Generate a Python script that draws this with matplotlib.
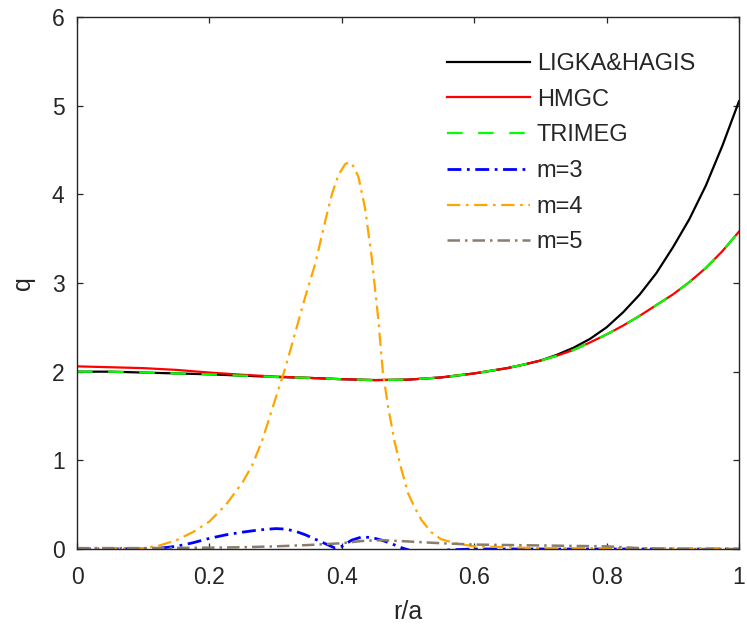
import matplotlib
matplotlib.use("Agg")
import matplotlib.pyplot as plt
import numpy as np

plt.rcParams['font.family'] = ['Liberation Sans', 'DejaVu Sans']

# ---- data ----
r_q = [0.00, 0.05, 0.10, 0.15, 0.20, 0.25, 0.30, 0.35, 0.40, 0.45, 0.50, 0.55,
       0.60, 0.625, 0.65, 0.675, 0.70, 0.725, 0.75, 0.775, 0.80, 0.825, 0.85,
       0.875, 0.90, 0.925, 0.95, 0.975, 1.00]
q_ligka = [2.00, 2.00, 1.99, 1.98, 1.97, 1.955, 1.94, 1.93, 1.915, 1.905, 1.91, 1.935,
           1.98, 2.01, 2.04, 2.08, 2.125, 2.19, 2.27, 2.37, 2.50, 2.67, 2.87,
           3.11, 3.40, 3.72, 4.10, 4.55, 5.05]
q_hmgc = [2.06, 2.05, 2.04, 2.02, 1.99, 1.965, 1.945, 1.93, 1.915, 1.905, 1.91, 1.935,
          1.98, 2.01, 2.04, 2.08, 2.125, 2.18, 2.245, 2.33, 2.42, 2.52, 2.63,
          2.75, 2.87, 3.01, 3.17, 3.36, 3.58]
q_trimeg = [2.00, 2.00, 1.99, 1.98, 1.97, 1.955, 1.94, 1.93, 1.915, 1.905, 1.91, 1.935,
            1.98, 2.01, 2.04, 2.08, 2.125, 2.18, 2.245, 2.33, 2.42, 2.52, 2.63,
            2.75, 2.87, 3.01, 3.17, 3.36, 3.58]

r_m4 = [0.00, 0.05, 0.08, 0.10, 0.125, 0.15, 0.175, 0.20, 0.225, 0.25, 0.265, 0.28,
        0.30, 0.315, 0.33, 0.345, 0.36, 0.375, 0.385, 0.395, 0.405, 0.41, 0.415,
        0.425, 0.435, 0.445, 0.455, 0.462, 0.47, 0.48, 0.49, 0.50, 0.51, 0.52,
        0.535, 0.55, 0.575, 0.60, 0.65, 0.70, 0.80, 0.90, 1.00]
q_m4 = [0.0, 0.0, 0.005, 0.01, 0.04, 0.10, 0.19, 0.31, 0.50, 0.75, 0.95, 1.23,
        1.70, 2.05, 2.45, 2.85, 3.22, 3.70, 4.00, 4.22, 4.34, 4.36, 4.35,
        4.20, 3.85, 3.30, 2.60, 2.00, 1.60, 1.20, 0.90, 0.63, 0.47, 0.33,
        0.19, 0.11, 0.06, 0.03, 0.02, 0.01, 0.01, 0.01, 0.01]

r_m3 = [0.00, 0.05, 0.10, 0.125, 0.15, 0.175, 0.20, 0.225, 0.25, 0.275, 0.30, 0.315,
        0.33, 0.345, 0.36, 0.375, 0.39, 0.40, 0.415, 0.43, 0.445, 0.46, 0.475,
        0.49, 0.505, 0.52, 0.54, 0.56, 0.60, 0.70, 0.80, 0.90, 1.00]
q_m3 = [0.0, 0.0, 0.005, 0.01, 0.03, 0.07, 0.12, 0.16, 0.19, 0.215, 0.23, 0.225,
        0.20, 0.16, 0.11, 0.06, 0.01, 0.03, 0.10, 0.135, 0.13, 0.10, 0.06,
        0.015, -0.02, -0.025, -0.02, -0.01, 0.0, 0.0, 0.0, 0.0, 0.0]

r_m5 = [0.00, 0.10, 0.20, 0.25, 0.30, 0.35, 0.40, 0.43, 0.46, 0.50, 0.55, 0.60,
        0.70, 0.80, 0.85, 0.90, 1.00]
q_m5 = [0.01, 0.01, 0.015, 0.02, 0.03, 0.045, 0.065, 0.09, 0.10, 0.085, 0.065, 0.05,
        0.04, 0.03, 0.01, 0.0, 0.0]

labels = ['LIGKA&HAGIS', 'HMGC', 'TRIMEG', 'm=3', 'm=4', 'm=5']
x_ticks = [0, 0.2, 0.4, 0.6, 0.8, 1]
x_ticklabels = ['0', '0.2', '0.4', '0.6', '0.8', '1']
y_ticks = [0, 1, 2, 3, 4, 5, 6]

# ---- figure ----
fig = plt.figure(figsize=(7.47, 6.40), dpi=100)
ax = fig.add_axes([77/747, 1 - 549/640, (739 - 77)/747, (549 - 17)/640])

ax.plot(r_q, q_ligka, color='black', lw=1.6, label=labels[0])
ax.plot(r_q, q_hmgc, color='#ff0000', lw=1.6, label=labels[1])
ax.plot(r_q, q_trimeg, color='#00ff00', lw=1.6, dashes=(7, 7), label=labels[2])
ax.plot(r_m3, q_m3, color='#0000ff', lw=2.0, dashes=(5, 2, 1, 2), label=labels[3])
ax.plot(r_m4, q_m4, color='#ffa500', lw=1.6, dashes=(6, 2.5, 1.2, 2.5), label=labels[4])
ax.plot(r_m5, q_m5, color='#8b7d6b', lw=1.8, dashes=(5, 2, 1, 2), label=labels[5])

ax.set_xlim(0, 1)
ax.set_ylim(0, 6)
ax.set_xticks(x_ticks)
ax.set_xticklabels(x_ticklabels)
ax.set_yticks(y_ticks)

axc = '#262626'
for s in ax.spines.values():
    s.set_color(axc)
    s.set_linewidth(1.0)
ax.tick_params(direction='in', length=4, width=0.9, colors=axc,
               top=True, right=True, labelsize=16.5)
ax.tick_params(axis='x', pad=12)
ax.tick_params(axis='y', pad=9)
for lab in ax.get_xticklabels() + ax.get_yticklabels():
    lab.set_color(axc)

ax.set_xlabel('r/a', fontsize=18, color=axc, labelpad=8)
ax.set_ylabel('q', fontsize=18, color=axc, labelpad=12)

leg = ax.legend(loc='upper left', bbox_to_anchor=(447/747, 1 - 53/640),
                bbox_transform=fig.transFigure, frameon=False, fontsize=17,
                handlelength=3.5, handletextpad=0.3, labelspacing=0.58,
                borderpad=0, borderaxespad=0)
for t in leg.get_texts():
    t.set_color(axc)

fig.savefig('out.png', dpi=100)
